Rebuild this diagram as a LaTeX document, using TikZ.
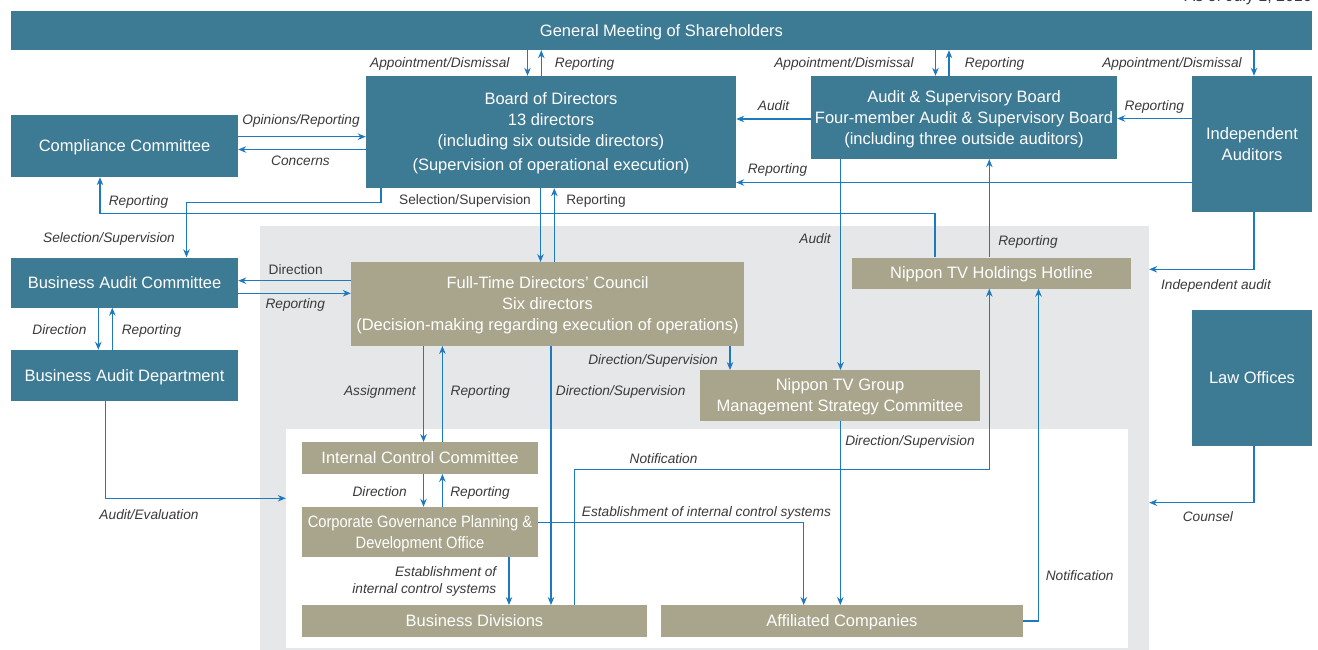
\documentclass[tikz,border=0pt]{standalone}
\usepackage{fontspec}
\setmainfont{Liberation Sans}
\newfontfamily\narrowsans{Liberation Sans}[FakeStretch=0.89]
\usetikzlibrary{arrows.meta}
\definecolor{tealc}{HTML}{3D7A93}
\definecolor{khakic}{HTML}{A8A58C}
\definecolor{bggray}{HTML}{E6E7E8}
\definecolor{lineblue}{HTML}{1D79C0}
\definecolor{labc}{HTML}{3A3A3A}
\tikzset{
  boxbase/.style={inner sep=0pt, text=white, align=center, text depth=0pt,
    font=\fontsize{16.5}{21}\selectfont},
  mline/.style={text depth=-1.5pt},
  tbox/.style={boxbase, fill=tealc},
  kbox/.style={boxbase, fill=khakic},
  labtwo/.style={inner sep=0pt, text=labc, font=\fontsize{13.7}{17.3}\selectfont\itshape},
  lab/.style={labtwo, text height=9.8pt, text depth=0.2pt},
  labu/.style={lab, font=\fontsize{13.7}{17.3}\selectfont},
  arr/.style={draw=lineblue, line width=1.2pt, -{Stealth[length=8pt,width=6.5pt]}},
}
\begin{document}
\begin{tikzpicture}[x=1pt,y=-1pt]
\useasboundingbox (0,0) rectangle (1318,650);
\clip (0,0) rectangle (1318,650);
% zones
\node[fill=bggray, inner sep=0pt, minimum width=889pt, minimum height=424pt] (grayzone) at (704.5,438) {};
\node[fill=white, inner sep=0pt, minimum width=842pt, minimum height=219pt] (whitezone) at (707,538.5) {};
% date line (cut off at top, as in the reference)
\node[anchor=base east, inner sep=0pt, text=labc, font=\fontsize{16}{19}\selectfont] (asof) at (1312,1.5) {As of July 1, 2016};
% teal boxes
\node[tbox, minimum width=1301pt, minimum height=39pt] (gm) at (661.5,30.5) {General Meeting of Shareholders};
\node[tbox, mline, minimum width=370pt, minimum height=112pt] (board) at (551,132) {Board of Directors\\13 directors\\(including six outside directors)\\[3pt](Supervision of operational execution)};
\node[tbox, minimum width=227pt, minimum height=62pt] (comp) at (124.5,146) {Compliance Committee};
\node[tbox, mline, minimum width=306pt, minimum height=83pt] (asb) at (964,117.5) {Audit \& Supervisory Board\\Four-member Audit \& Supervisory Board\\(including three outside auditors)};
\node[tbox, mline, minimum width=120pt, minimum height=136pt] (ia) at (1252,144) {Independent\\Auditors};
\node[tbox, minimum width=227pt, minimum height=50pt] (bac) at (124.5,282.5) {Business Audit Committee};
\node[tbox, minimum width=227pt, minimum height=51pt] (bad) at (124.5,375.5) {Business Audit Department};
\node[tbox, minimum width=120pt, minimum height=136pt] (law) at (1252,377.5) {Law Offices};
% khaki boxes
\node[kbox, mline, minimum width=393pt, minimum height=83.5pt] (ftdc) at (547.5,304) {Full-Time Directors’ Council\\Six directors\\(Decision-making regarding execution of operations)};
\node[kbox, minimum width=279pt, minimum height=31pt] (hot) at (991.5,273) {Nippon TV Holdings Hotline};
\node[kbox, mline, minimum width=280pt, minimum height=50.5pt] (msc) at (840,395.5) {Nippon TV Group\\Management Strategy Committee};
\node[kbox, minimum width=236pt, minimum height=31.5pt] (icc) at (420,458) {Internal Control Committee};
\node[kbox, mline, minimum width=236pt, minimum height=50pt, font=\narrowsans\fontsize{16.5}{21.5}\selectfont] (cgp) at (420,532) {Corporate Governance Planning \&\\Development Office};
\node[kbox, minimum width=345pt, minimum height=31.5pt] (bd) at (474.5,621) {Business Divisions};
\node[kbox, minimum width=362pt, minimum height=31.5pt] (aff) at (842,621) {Affiliated Companies};
% connectors: top
\draw[arr] (gm.south -| 527.5,0) -- (board.north -| 527.5,0);
\draw[arr] (board.north -| 541.3,0) -- (gm.south -| 541.3,0);
\draw[arr] (gm.south -| 935.5,0) -- (asb.north -| 935.5,0);
\draw[arr] (asb.north -| 949,0) -- (gm.south -| 949,0);
\draw[arr] (gm.south -| 1254,0) -- (ia.north -| 1254,0);
\draw[arr] (asb.west |- 0,119) -- (board.east |- 0,119);
\draw[arr] (ia.west |- 0,118.5) -- (asb.east |- 0,118.5);
\draw[arr] (ia.west |- 0,182.5) -- (board.east |- 0,182.5);
\draw[arr] (comp.east |- 0,136.7) -- (board.west |- 0,136.7);
\draw[arr] (board.west |- 0,149.5) -- (comp.east |- 0,149.5);
\draw[arr] (board.south -| 381,0) -- (381,202.7) -- (186.5,202.7) -- (bac.north -| 186.5,0);
\draw[arr] (hot.north -| 935,0) -- (935,213.3) -- (100,213.3) -- (comp.south -| 100,0);
\draw[arr] (hot.north -| 989.3,0) -- (asb.south -| 989.3,0);
\draw[arr] (asb.south -| 840.5,0) -- (msc.north -| 840.5,0);
\draw[arr] (ia.south -| 1254,0) |- (grayzone.east |- 0,269.3);
\draw[arr] (law.south -| 1254,0) |- (grayzone.east |- 0,502.7);
% connectors: middle
\draw[arr] (ftdc.west |- 0,280.7) -- (bac.east |- 0,280.7);
\draw[arr] (bac.east |- 0,293.3) -- (ftdc.west |- 0,293.3);
\draw[arr] (bac.south -| 98.3,0) -- (bad.north -| 98.3,0);
\draw[arr] (bad.north -| 112.3,0) -- (bac.south -| 112.3,0);
\draw[arr] (bad.south -| 105.3,0) |- (whitezone.west |- 0,498.3);
\draw[arr] (board.south -| 540.5,0) -- (ftdc.north -| 540.5,0);
\draw[arr] (ftdc.north -| 554.3,0) -- (board.south -| 554.3,0);
\draw[arr] (ftdc.south -| 423.5,0) -- (icc.north -| 423.5,0);
\draw[arr] (icc.north -| 442.4,0) -- (ftdc.south -| 442.4,0);
\draw[arr] (ftdc.south -| 551,0) -- (bd.north -| 551,0);
\draw[arr] (ftdc.south -| 730,0) -- (msc.north -| 730,0);
% connectors: bottom
\draw[arr] (icc.south -| 423.5,0) -- (cgp.north -| 423.5,0);
\draw[arr] (cgp.north -| 442.4,0) -- (icc.south -| 442.4,0);
\draw[arr] (cgp.south -| 509,0) -- (bd.north -| 509,0);
\draw[arr] (cgp.east |- 0,522.7) -| (aff.north -| 803.7,0);
\draw[arr] (msc.south -| 840.3,0) -- (aff.north -| 840.3,0);
\draw[arr] (bd.north -| 574.6,0) |- (989.3,469.3) -- (hot.south -| 989.3,0);
\draw[arr] (aff.east |- 0,621) -| (hot.south -| 1038.5,0);
% labels
\node[lab] (l1) at (439.8,63) {Appointment/Dismissal};
\node[lab] (l2) at (584.6,63) {Reporting};
\node[lab] (l3) at (844,63) {Appointment/Dismissal};
\node[lab] (l4) at (994.6,63) {Reporting};
\node[lab] (l5) at (1172,63) {Appointment/Dismissal};
\node[lab] (l6) at (773.5,106) {Audit};
\node[lab] (l7) at (1154.3,106) {Reporting};
\node[lab] (l8) at (777.5,168.3) {Reporting};
\node[lab] (l9) at (301,119.3) {Opinions/Reporting};
\node[lab] (l10) at (300.5,161) {Concerns};
\node[labu] (l11) at (465,200) {Selection/Supervision};
\node[labu] (l12) at (596,200) {Reporting};
\node[lab] (l13) at (138.5,201) {Reporting};
\node[lab] (l14) at (109,238) {Selection/Supervision};
\node[lab] (l15) at (815,239) {Audit};
\node[lab] (l16) at (1028,240.7) {Reporting};
\node[lab] (l17) at (1216,284.3) {Independent audit};
\node[labu] (l18) at (295.7,270) {Direction};
\node[lab] (l19) at (295.2,304) {Reporting};
\node[lab] (l20) at (59.4,330) {Direction};
\node[lab] (l21) at (151.5,330) {Reporting};
\node[lab] (l22) at (653,360) {Direction/Supervision};
\node[lab] (l23) at (379.8,391) {Assignment};
\node[lab] (l24) at (480.4,391) {Reporting};
\node[lab] (l25) at (620.7,391) {Direction/Supervision};
\node[lab] (l26) at (910,441) {Direction/Supervision};
\node[lab] (l27) at (663.6,459) {Notification};
\node[lab] (l28) at (379.6,492) {Direction};
\node[lab] (l29) at (480,492) {Reporting};
\node[lab] (l30) at (149,515) {Audit/Evaluation};
\node[lab] (l31) at (706.4,511.7) {Establishment of internal control systems};
\node[lab] (l32) at (1207.9,516.7) {Counsel};
\node[labtwo, anchor=base east, align=right] (l33) at (496.5,593.8) {Establishment of\\internal control systems};
\node[lab] (l34) at (1079.7,575.7) {Notification};
\end{tikzpicture}
\end{document}
